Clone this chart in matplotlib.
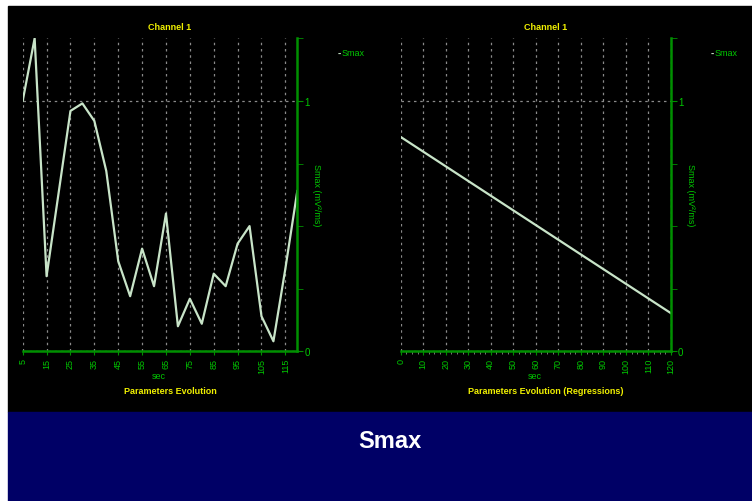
#!/usr/bin/env python3
"""Smax evolution panels: raw channel data and its regression line."""

import matplotlib
matplotlib.use("Agg")
import matplotlib.pyplot as plt
from matplotlib.patches import Rectangle
from matplotlib.ticker import FixedLocator, FuncFormatter


# raw channel 1 samples (sec, Smax)
raw_sec = [5, 10, 15, 20, 25, 30, 35, 40, 45, 50, 55, 60, 65, 70,
           75, 80, 85, 90, 95, 100, 105, 110, 115, 120]
raw_smax = [1.00, 1.25, 0.30, 0.63, 0.96, 0.99, 0.92, 0.72, 0.36, 0.22,
            0.41, 0.26, 0.55, 0.10, 0.21, 0.11, 0.31, 0.26, 0.43, 0.50,
            0.14, 0.04, 0.33, 0.64]

# regression endpoints
reg_sec = [0, 120]
reg_smax = [0.856, 0.152]

raw_xticks = [5, 15, 25, 35, 45, 55, 65, 75, 85, 95, 105, 115]
reg_xticks = [0, 10, 20, 30, 40, 50, 60, 70, 80, 90, 100, 110, 120]
y_labeled = [0, 1]
y_minor = [0.25, 0.5, 0.75, 1.25]

title_text = "Channel 1"
ylabel_text = "Smax (mV²/ms)"
legend_text = "Smax"
footer_text = "Smax"

W, H = 752, 502
BLACK_TOP, BLACK_BOTTOM = 7, 413
NAVY = "#000066"
AXIS_GREEN = "#009000"
TEXT_GREEN = "#00c800"
YELLOW = "#f0f000"
LINE_COLOR = "#c8e4c8"
GRID_GREY = "#8a8a8a"
FONT = "Liberation Sans"


def px_box(x0, x1, y_top, y_bottom):
    return [x0 / W, 1 - y_bottom / H, (x1 - x0) / W, (y_bottom - y_top) / H]


def style_panel(ax, xs, ys, xticks, xlim, minor_x=None):
    ax.set_facecolor("black")
    ax.plot(xs, ys, color=LINE_COLOR, linewidth=1.6, clip_on=True)
    ax.set_xlim(*xlim)
    ax.set_ylim(0, 1.25)

    for side in ("left", "top"):
        ax.spines[side].set_visible(False)
    for side in ("right", "bottom"):
        ax.spines[side].set_color(AXIS_GREEN)
        ax.spines[side].set_linewidth(1.8)

    ax.xaxis.set_major_locator(FixedLocator(xticks))
    ax.set_xticklabels([str(t) for t in xticks], rotation=90,
                       fontsize=6.5, color=TEXT_GREEN, family=FONT)
    ax.tick_params(axis="x", which="major", direction="out", length=3,
                   color=AXIS_GREEN, pad=1.5)
    if minor_x is not None:
        ax.xaxis.set_minor_locator(FixedLocator(minor_x))
        ax.tick_params(axis="x", which="minor", direction="out", length=2,
                       color=GRID_GREY)

    ax.yaxis.tick_right()
    ax.yaxis.set_major_locator(FixedLocator(y_labeled))
    ax.yaxis.set_minor_locator(FixedLocator(y_minor))
    ax.yaxis.set_major_formatter(FuncFormatter(lambda v, p: f"{v:g}"))
    ax.tick_params(axis="y", which="both", direction="out", length=4,
                   color=AXIS_GREEN, labelsize=7, labelcolor=TEXT_GREEN, pad=1)
    for lab in ax.get_yticklabels():
        lab.set_family(FONT)

    ax.grid(True, which="major", color=GRID_GREY, linestyle=(0, (2, 3)),
            linewidth=0.9)
    ax.set_axisbelow(True)


def add_panel_text(fig, cx, axis_x, legend_x, bottom_title):
    fig.text(cx / W, 1 - 28 / H, title_text, ha="center", va="center",
             color=YELLOW, fontsize=6.5, fontweight="bold", family=FONT)
    fig.text((cx - 11) / W, 1 - 377 / H, "sec", ha="center", va="center",
             color=TEXT_GREEN, fontsize=6.5, family=FONT)
    fig.text(cx / W, 1 - 392 / H, bottom_title, ha="center", va="center",
             color=YELLOW, fontsize=6.5, fontweight="bold", family=FONT)
    fig.text(axis_x / W, 1 - 195 / H, ylabel_text, ha="center", va="center",
             rotation=-90, color=TEXT_GREEN, fontsize=6.5, family=FONT)
    fig.text(legend_x / W, 1 - 54 / H, "-", ha="left", va="center",
             color=LINE_COLOR, fontsize=7, fontweight="bold", family=FONT)
    fig.text((legend_x + 4) / W, 1 - 54 / H, legend_text, ha="left",
             va="center", color=TEXT_GREEN, fontsize=6.5, family=FONT)


fig = plt.figure(figsize=(W / 100, H / 100), dpi=100, facecolor="white")

fig.patches.append(Rectangle((8 / W, 1 - BLACK_BOTTOM / H), 1 - 8 / W,
                             (BLACK_BOTTOM - BLACK_TOP) / H,
                             transform=fig.transFigure, color="black", zorder=-2))
fig.patches.append(Rectangle((8 / W, -0.01), 1 - 8 / W, 1.01 - BLACK_BOTTOM / H,
                             transform=fig.transFigure, color=NAVY, zorder=-2))

ax_raw = fig.add_axes(px_box(22.7, 297.3, 39.3, 352.3))
style_panel(ax_raw, raw_sec, raw_smax, raw_xticks, (5, 120))

minor_reg = [v / 2 for v in range(0, 241, 5) if v % 20 != 0]
ax_reg = fig.add_axes(px_box(400.7, 671.0, 39.3, 352.3))
style_panel(ax_reg, reg_sec, reg_smax, reg_xticks, (0, 120), minor_x=minor_reg)

add_panel_text(fig, 170, 317, 338, "Parameters Evolution")
add_panel_text(fig, 546, 690, 711, "Parameters Evolution (Regressions)")

fig.text(390 / W, 1 - 442 / H, footer_text, ha="center", va="center",
         color="white", fontsize=17, fontweight="bold", family=FONT)

fig.savefig("out.png", dpi=100, facecolor="white")
